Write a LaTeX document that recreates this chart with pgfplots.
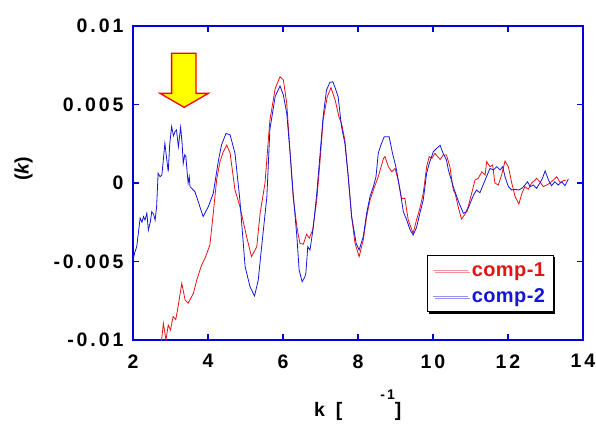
\documentclass[border=0pt]{standalone}
\usepackage{pgfplots}
\pgfplotsset{compat=1.18}
\usepackage{fontspec}
\setmainfont{Liberation Sans}
\newfontfamily\lbl[LetterSpace=15]{Liberation Sans}
\newfontfamily\leg[LetterSpace=2]{Liberation Sans}
\usetikzlibrary{shadows}
\definecolor{axblue}{RGB}{0,0,220}
\definecolor{cred}{RGB}{228,20,20}
\definecolor{cblue}{RGB}{20,20,220}
\definecolor{arrowyellow}{RGB}{255,255,0}
\newcommand\lblsize{\fontsize{19.5}{22}\selectfont\lbl\bfseries}
\newcommand\legsize{\fontsize{20}{23}\selectfont\leg\bfseries}

\pgfplotstableread{
k y
2.74 -0.0105
2.81 -0.00894
2.88 -0.0100
2.94 -0.00904
3.00 -0.00936
3.07 -0.00850
3.14 -0.00870
3.21 -0.00777
3.30 -0.00639
3.39 -0.00745
3.47 -0.00766
3.61 -0.00703
3.70 -0.00618
3.83 -0.00522
3.92 -0.00480
4.05 -0.00395
4.14 -0.00193
4.23 0.00019
4.32 0.00136
4.41 0.00200
4.50 0.00242
4.59 0.00189
4.72 -0.00045
4.85 -0.00150
5.03 -0.00342
5.16 -0.00469
5.30 -0.00406
5.39 -0.00193
5.52 0.00000
5.65 0.00400
5.79 0.00600
5.92 0.00677
6.01 0.00656
6.10 0.00507
6.19 0.00189
6.27 -0.00087
6.37 -0.00278
6.45 -0.00384
6.54 -0.00390
6.63 -0.00327
6.70 -0.00352
6.79 -0.00300
6.90 -0.00108
6.99 0.00146
7.07 0.00401
7.18 0.00550
7.28 0.00607
7.39 0.00529
7.49 0.00422
7.56 0.00380
7.65 0.00274
7.74 0.00040
7.83 -0.00214
7.92 -0.00384
8.03 -0.00469
8.14 -0.00363
8.23 -0.00214
8.32 -0.00108
8.41 -0.00045
8.54 0.00040
8.68 0.00157
8.72 0.00168
8.81 0.00104
8.90 0.00072
8.99 0.00093
9.07 0.00019
9.16 -0.00098
9.25 -0.00098
9.34 -0.00236
9.47 -0.00321
9.56 -0.00236
9.65 -0.00161
9.74 -0.00066
9.83 0.00104
9.90 0.00168
9.97 0.00157
10.05 0.00189
10.19 0.00150
10.27 0.00178
10.36 0.00178
10.45 0.00104
10.54 -0.00045
10.59 -0.00066
10.68 -0.00160
10.76 -0.00230
10.85 -0.00200
10.94 -0.00150
11.03 -0.00066
11.12 0.00019
11.21 0.00030
11.30 0.00072
11.39 0.00051
11.43 0.00136
11.52 0.00104
11.59 0.00115
11.65 0.00000
11.74 -0.00013
11.83 0.00051
11.92 0.00140
12.01 0.00104
12.10 0.00000
12.19 -0.00087
12.29 -0.00134
12.37 -0.00066
12.45 -0.00023
12.54 -0.00040
12.63 0.00000
12.72 0.00019
12.76 0.00030
12.85 0.00008
12.94 -0.00023
13.03 -0.00013
13.12 0.00000
13.21 0.00019
13.30 0.00040
13.39 0.00003
13.48 0.00015
13.55 0.00019
}\compone

\pgfplotstableread{
k y
2.00 -0.00490
2.05 -0.00440
2.10 -0.00406
2.19 -0.00223
2.24 -0.00250
2.28 -0.00214
2.32 -0.00236
2.37 -0.00192
2.41 -0.00300
2.46 -0.00250
2.50 -0.00183
2.55 -0.00200
2.59 -0.00236
2.63 -0.00150
2.67 0.00062
2.72 0.00040
2.77 0.00051
2.81 0.00150
2.85 0.00253
2.90 0.00150
2.94 0.00072
2.98 0.00250
3.03 0.00359
3.08 0.00300
3.12 0.00327
3.16 0.00338
3.21 0.00231
3.27 0.00355
3.31 0.00250
3.34 0.00125
3.38 0.00180
3.41 0.00168
3.44 0.00080
3.47 0.00000
3.50 0.00040
3.52 -0.00023
3.65 -0.00055
3.74 -0.00119
3.87 -0.00214
4.01 -0.00150
4.14 -0.00066
4.28 0.00146
4.36 0.00242
4.48 0.00316
4.59 0.00306
4.72 0.00189
4.85 -0.00108
4.99 -0.00533
5.12 -0.00660
5.24 -0.00720
5.34 -0.00618
5.43 -0.00406
5.57 -0.00087
5.65 0.00340
5.79 0.00550
5.92 0.00618
6.01 0.00560
6.10 0.00444
6.19 0.00189
6.27 -0.00066
6.37 -0.00342
6.43 -0.00554
6.51 -0.00629
6.58 -0.00600
6.61 -0.00575
6.66 -0.00406
6.72 -0.00427
6.81 -0.00278
6.90 -0.00066
6.99 0.00189
7.07 0.00422
7.16 0.00592
7.25 0.00641
7.33 0.00645
7.40 0.00600
7.47 0.00550
7.56 0.00359
7.65 0.00253
7.74 0.00040
7.83 -0.00214
7.95 -0.00384
8.03 -0.00427
8.14 -0.00342
8.23 -0.00193
8.32 -0.00087
8.41 -0.00023
8.48 0.00040
8.54 0.00189
8.61 0.00242
8.70 0.00295
8.83 0.00295
8.92 0.00189
9.01 0.00104
9.12 -0.00045
9.21 -0.00183
9.30 -0.00236
9.39 -0.00300
9.47 -0.00331
9.56 -0.00284
9.65 -0.00193
9.74 -0.00108
9.83 0.00062
9.90 0.00125
10.01 0.00200
10.10 0.00221
10.19 0.00240
10.27 0.00189
10.36 0.00146
10.41 0.00083
10.54 -0.00023
10.68 -0.00119
10.81 -0.00193
10.90 -0.00183
10.99 -0.00130
11.08 -0.00077
11.16 -0.00045
11.25 -0.00062
11.39 0.00019
11.52 0.00093
11.61 0.00083
11.70 0.00104
11.79 0.00083
11.86 0.00104
11.92 0.00040
12.01 -0.00023
12.10 -0.00045
12.19 -0.00040
12.28 -0.00045
12.37 -0.00034
12.45 -0.00013
12.52 0.00008
12.59 -0.00023
12.68 -0.00013
12.76 -0.00034
12.85 0.00000
12.92 0.00030
12.99 0.00078
13.08 0.00019
13.16 -0.00017
13.25 0.00008
13.34 -0.00013
13.43 0.00008
13.52 -0.00017
13.61 0.00026
}\comptwo

\begin{document}
\begin{tikzpicture}
\useasboundingbox (-133pt,-83pt) rectangle (463pt,340pt);
\begin{axis}[
  scale only axis,
  width=450pt, height=314pt,
  xmin=2, xmax=14, ymin=-0.01, ymax=0.01,
  scaled y ticks=false,
  axis line style={axblue, line width=2pt},
  tick style={axblue, line width=1.6pt},
  tick align=inside,
  major tick length=6pt,
  xtick={2,4,6,8,10,12,14},
  xticklabels={2,4,6,8,10,12,14},
  ytick={-0.01,-0.005,0,0.005,0.01},
  yticklabels={-0.01,-0.005,0,0.005,0.01},
  ticklabel style={font=\lblsize},
  xticklabel shift=11pt,
  yticklabel shift=6pt,
  xlabel={k\hspace{10.9pt}[\hspace{38pt}\raisebox{17pt}{\fontsize{14}{16}\selectfont -1}]},
  ylabel={({\itshape k})},
  label style={font=\lblsize},
  xlabel style={at={(axis description cs:0.402,-0.2452)}, anchor=base west, inner sep=0pt},
  ylabel style={at={(axis description cs:-0.2433,0.5446)}, anchor=center, rotate=0},
  legend cell align=left,
  legend image code/.code={\draw[#1, line width=1.2pt] (0pt,0pt) -- (35pt,0pt);},
  legend style={at={(axis description cs:0.9356,0.088)}, anchor=south east,
    draw=black, line width=1.1pt, fill=white, font=\legsize,
    drop shadow={shadow xshift=2pt, shadow yshift=-2pt, fill=black, opacity=1},
    nodes={inner xsep=3pt, inner ysep=1pt},
    inner xsep=5.5pt, inner ysep=6.5pt, row sep=9pt},
]
\addplot[cred, line width=0.8pt, legend image post style={cred!45}] table[x=k, y=y] {\compone};
\addplot[cblue, line width=0.8pt, legend image post style={cblue!45}] table[x=k, y=y] {\comptwo};
\legend{\textcolor{cred}{comp-1}, \textcolor{cblue}{comp-2}}
\draw[red, line width=1.3pt, fill=arrowyellow, line join=miter]
  (axis cs:3.03,0.00826) -- (axis cs:3.68,0.00826) -- (axis cs:3.68,0.00571)
  -- (axis cs:4.01,0.00571) -- (axis cs:3.365,0.00482) -- (axis cs:2.72,0.00571)
  -- (axis cs:3.03,0.00571) -- cycle;
\end{axis}
\end{tikzpicture}
\end{document}
